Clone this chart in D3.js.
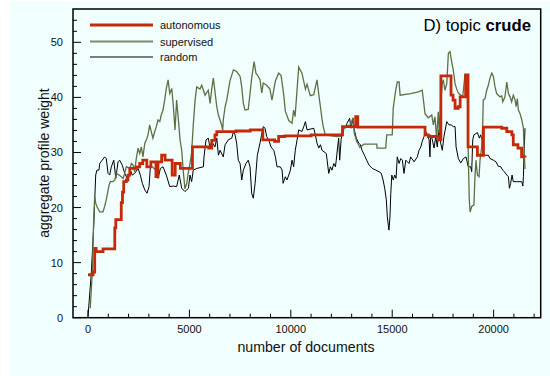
<!DOCTYPE html>
<html>
<head>
<meta charset="utf-8">
<script src="https://cdn.jsdelivr.net/npm/d3@7"></script>
<style>
  html, body { margin: 0; padding: 0; background: #fff; }
  svg { display: block; font-family: "Liberation Sans", Arial, Helvetica, sans-serif; }
</style>
</head>
<body>
<svg id="chart" width="550" height="376"></svg>
<script>
// [documents, aggregate profile weight]
const autonomous = [
  [0, 7.8], [250, 8.3], [330, 12.6], [400, 12.0], [740, 12.5], [1320, 16.3], [1370, 17.8],
  [1640, 20.9], [1700, 22.8], [1760, 24.7], [1890, 25.0], [1970, 25.9], [2060, 27.1],
  [2370, 27.4], [2550, 28.0], [2700, 28.6], [2900, 27.4], [3100, 28.3], [3350, 25.6],
  [3450, 28.3], [3630, 29.5], [3800, 28.6], [4150, 25.9], [4300, 28.0], [4550, 27.1],
  [5150, 31.0], [5950, 30.8], [6100, 32.2], [6260, 33.2], [6350, 33.8], [7300, 33.9],
  [8000, 34.1], [8620, 32.3], [9200, 32.0], [9400, 32.9], [9700, 33.0], [11000, 33.2],
  [12550, 34.7], [13200, 36.5], [13300, 34.6], [16620, 33.2], [16780, 32.9], [17300, 32.3],
  [17400, 43.9], [17900, 40.4], [18000, 39.5], [18100, 38.0], [18250, 38.3], [18350, 40.1],
  [18620, 44.1], [18740, 31.0], [19200, 29.5], [19500, 34.6], [20400, 34.4], [20650, 33.8],
  [20900, 33.2], [20970, 31.4], [21200, 30.8], [21380, 29.2], [21550, 29.1]
];

const supervised = [
  [110, 1.7], [210, 8.1], [280, 17.7], [330, 22.0], [380, 20.8], [440, 20.2], [580, 19.2],
  [740, 19.2], [820, 20.2], [900, 21.4], [1040, 24.1], [1100, 24.7], [1230, 24.7], [1320, 25.0],
  [1400, 26.2], [1530, 25.9], [1640, 25.6], [1730, 25.3], [1810, 26.2], [1890, 27.4],
  [2060, 27.1], [2140, 28.0], [2220, 27.7], [2300, 26.5], [2380, 28.9], [2470, 30.8],
  [2550, 29.8], [2630, 31.0], [2710, 29.2], [2800, 31.7], [2880, 32.3], [2960, 33.2],
  [3040, 35.0], [3120, 33.8], [3200, 32.6], [3290, 33.8], [3370, 34.7], [3450, 35.9],
  [3540, 35.6], [3610, 36.8], [3700, 37.7], [3780, 39.5], [3860, 41.6], [3950, 43.2],
  [4030, 40.7], [4130, 41.6], [4210, 38.3], [4290, 34.1], [4370, 39.5], [4450, 36.2],
  [4540, 32.3], [4620, 30.4], [4700, 26.5], [4780, 23.4], [4870, 24.4], [4930, 26.0],
  [5030, 28.0], [5110, 30.0], [5190, 35.0], [5280, 39.5], [5360, 41.9], [5520, 41.5],
  [5610, 42.2], [5770, 40.4], [5930, 41.3], [6020, 38.9], [6100, 41.5], [6180, 43.5],
  [6350, 38.3], [6430, 36.8], [6510, 35.9], [6590, 35.0], [6640, 34.0], [6670, 35.9],
  [6760, 38.3], [6840, 39.5], [7000, 43.0], [7170, 45.0], [7330, 44.7], [7500, 43.8],
  [7580, 41.9], [7660, 38.9], [7740, 37.7], [7900, 37.8], [7990, 40.7], [8070, 43.5],
  [8190, 46.5], [8280, 44.4], [8400, 43.8], [8480, 43.2], [8570, 40.8], [8640, 42.6],
  [8810, 42.2], [8970, 41.5], [9070, 39.5], [9240, 43.0], [9400, 44.4], [9520, 44.0],
  [9650, 40.5], [9730, 37.5], [9900, 35.8], [10060, 35.3], [10140, 37.7], [10210, 36.5],
  [10390, 45.5], [10550, 44.4], [10720, 41.5], [10800, 42.4], [10960, 40.3], [11130, 40.5],
  [11290, 43.2], [11380, 40.5], [11460, 38.3], [11540, 36.0], [11600, 34.7], [11700, 33.2],
  [12280, 32.9], [12530, 33.0], [12640, 34.6], [12930, 35.0], [13070, 36.3], [13130, 33.5],
  [13250, 32.0], [13330, 31.5], [13410, 30.9], [13600, 31.5], [14240, 31.5], [14250, 30.8],
  [14680, 30.8], [14730, 33.2], [15000, 33.2], [15050, 38.0], [15160, 41.0], [15250, 42.8],
  [15340, 42.8], [15390, 40.4], [15910, 40.7], [16290, 41.0], [16480, 41.3], [16620, 37.0],
  [16780, 36.3], [16950, 36.8], [17030, 35.0], [17110, 36.5], [17190, 32.5], [17270, 37.4],
  [17320, 33.5], [17390, 39.0], [17470, 42.6], [17520, 43.2], [17600, 41.3], [17690, 42.5],
  [17770, 48.0], [17850, 48.3], [17930, 46.5], [18010, 45.0], [18100, 42.5], [18180, 41.5],
  [18260, 40.8], [18340, 40.5], [18480, 40.2], [18590, 44.2], [18670, 42.0], [18710, 40.4],
  [18750, 29.8], [18800, 21.4], [18840, 19.2], [18920, 20.2], [19030, 20.5], [19080, 25.6],
  [19130, 28.6], [19200, 25.9], [19280, 25.6], [19330, 28.6], [19410, 31.0], [19460, 34.7],
  [19490, 39.5], [19580, 39.8], [19660, 41.3], [19740, 42.2], [19820, 43.5], [19910, 44.4],
  [19990, 43.8], [20070, 41.9], [20150, 40.7], [20320, 40.1], [20400, 40.3], [20450, 39.2],
  [20560, 40.1], [20650, 42.8], [20730, 40.7], [20810, 40.1], [20890, 39.2], [20970, 40.4],
  [21060, 39.5], [21110, 38.3], [21170, 39.8], [21220, 37.7], [21300, 37.1], [21390, 35.9],
  [21470, 34.4], [21510, 30.0], [21550, 27.0]
];

const random = [
  [0, 0.2], [160, 8.0], [280, 16.5], [380, 25.9], [440, 26.8], [540, 26.8], [580, 28.0],
  [700, 28.6], [820, 29.2], [900, 28.9], [990, 26.2], [1070, 25.9], [1150, 27.4], [1270, 28.6],
  [1370, 25.3], [1480, 28.3], [1560, 28.6], [1690, 27.7], [1810, 26.2], [1970, 25.0],
  [2090, 26.8], [2180, 25.9], [2300, 26.2], [2470, 27.1], [2580, 25.9], [2680, 24.4],
  [2800, 23.2], [2910, 22.6], [3010, 23.8], [3070, 27.1], [3170, 27.4], [3340, 26.8],
  [3450, 25.3], [3570, 27.1], [3700, 27.4], [3860, 25.9], [4030, 23.8], [4210, 23.9],
  [4370, 23.8], [4500, 25.9], [4620, 23.5], [4780, 22.9], [4950, 23.5], [5030, 25.9],
  [5110, 24.7], [5190, 26.8], [5360, 27.1], [5690, 27.4], [5720, 29.2], [5820, 32.3],
  [5930, 32.6], [6020, 30.8], [6100, 32.0], [6260, 31.0], [6350, 32.6], [6430, 29.5],
  [6510, 30.4], [6670, 29.2], [6760, 31.4], [6920, 32.3], [7090, 32.6], [7170, 33.8],
  [7250, 33.2], [7330, 31.7], [7410, 28.6], [7500, 28.0], [7580, 25.0], [7660, 26.8],
  [7790, 28.0], [7900, 28.6], [7990, 27.4], [8070, 22.6], [8150, 21.7], [8240, 24.4],
  [8350, 29.5], [8480, 31.7], [8640, 34.7], [8730, 34.4], [8810, 32.9], [8940, 32.0],
  [9020, 31.0], [9160, 30.4], [9240, 29.2], [9320, 27.4], [9480, 27.4], [9570, 26.8],
  [9620, 24.4], [9730, 25.6], [9810, 25.0], [9900, 25.9], [9980, 26.8], [10060, 28.6],
  [10140, 27.4], [10220, 30.4], [10310, 32.3], [10390, 34.1], [10550, 33.8], [10640, 34.7],
  [10720, 35.6], [10800, 34.1], [11130, 34.4], [11210, 33.2], [11290, 31.7], [11380, 30.8],
  [11460, 31.4], [11540, 30.4], [11750, 29.8], [11790, 28.6], [11870, 26.2], [11950, 27.4],
  [12030, 26.8], [12120, 28.0], [12200, 27.4], [12240, 28.6], [12310, 31.0], [12360, 32.6],
  [12410, 28.6], [12480, 32.3], [12570, 34.7], [12690, 34.4], [12770, 35.3], [12900, 36.2],
  [12970, 34.4], [13070, 36.2], [13130, 34.1], [13230, 32.6], [13350, 31.7], [13430, 31.4],
  [13510, 30.4], [13630, 29.5], [13740, 28.6], [13860, 27.7], [14020, 27.1], [14190, 26.8],
  [14350, 26.5], [14460, 26.2], [14550, 25.0], [14630, 23.5], [14710, 21.4], [14760, 18.3],
  [14840, 15.9], [14890, 18.3], [14930, 22.6], [14980, 25.9], [15050, 25.0], [15120, 25.9],
  [15190, 25.3], [15250, 29.2], [15340, 28.0], [15420, 28.9], [15500, 28.6], [15580, 26.2],
  [15670, 28.6], [15750, 28.3], [15830, 28.0], [15910, 29.2], [16080, 28.3], [16240, 29.2],
  [16320, 30.4], [16410, 31.0], [16480, 32.0], [16570, 32.9], [16650, 33.8], [16730, 33.2],
  [16820, 32.3], [16860, 29.2], [16900, 33.2], [16980, 32.3], [17060, 30.8], [17150, 32.9],
  [17220, 31.0], [17310, 34.1], [17390, 31.7], [17470, 30.4], [17550, 32.9], [17690, 35.6],
  [17800, 35.0], [17910, 35.0], [18010, 34.7], [18100, 34.7], [18150, 31.0], [18260, 28.9],
  [18380, 28.1], [18510, 28.9], [18640, 29.2], [18750, 27.4], [18870, 27.4], [18920, 26.5],
  [18970, 32.3], [19030, 33.2], [19200, 33.6], [19300, 32.6], [19360, 33.2], [19430, 32.3],
  [19490, 29.8], [19580, 29.5], [19740, 29.5], [19820, 28.9], [19990, 28.6], [20120, 28.3],
  [20230, 27.5], [20350, 27.4], [20450, 26.8], [20530, 26.5], [20650, 25.9], [20730, 25.6],
  [20780, 23.5], [20840, 24.4], [20910, 25.9], [20970, 24.7], [21140, 24.7], [21390, 24.7],
  [21440, 23.9], [21470, 25.6], [21500, 29.8], [21550, 34.4]
];

const seriesNames = ['autonomous', 'supervised', 'random'];
const seriesColors = ['#c42a0a', '#5f6f45', '#000000'];
const xMajorTicks = [0, 5000, 10000, 15000, 20000];
const yMajorTicks = [0, 10, 20, 30, 40, 50];

const svg = d3.select('#chart');
const W = 550, H = 376;
const plot = { left: 73, top: 9, right: 540.7, bottom: 317.7 };

svg.append('rect').attr('x', 10).attr('y', 2).attr('width', W - 10).attr('height', H - 2)
  .attr('fill', '#f0fefe');

const x = d3.scaleLinear().domain([-740, 22322]).range([plot.left, plot.right]);
const y = d3.scaleLinear().domain([0, 56.05]).range([plot.bottom, plot.top]);

const g = svg.append('g');

// ticks, inside the frame, left and bottom only
const xMinor = d3.range(1000, 23000, 1000).filter(d => x(d) < plot.right && d % 5000 !== 0);
const yMinor = d3.range(2, 56, 2).filter(d => d % 10 !== 0);

g.selectAll('.xt').data(xMajorTicks.concat(xMinor)).enter().append('line')
  .attr('x1', d => x(d)).attr('x2', d => x(d))
  .attr('y1', plot.bottom).attr('y2', d => plot.bottom - (d % 5000 === 0 ? 8 : 4))
  .attr('stroke', '#000').attr('stroke-width', 1);

g.selectAll('.yt').data(yMajorTicks.concat(yMinor)).enter().append('line')
  .attr('y1', d => y(d)).attr('y2', d => y(d))
  .attr('x1', plot.left).attr('x2', d => plot.left + (d % 10 === 0 ? 8 : 4))
  .attr('stroke', '#000').attr('stroke-width', 1);

g.selectAll('.xl').data(xMajorTicks).enter().append('text')
  .attr('x', d => x(d)).attr('y', 333).attr('text-anchor', 'middle')
  .attr('font-size', 11).attr('fill', '#111').text(d => d);

g.selectAll('.yl').data(yMajorTicks).enter().append('text')
  .attr('x', 63).attr('y', d => y(d) + 4).attr('text-anchor', 'end')
  .attr('font-size', 11).attr('fill', '#111').text(d => d);

// series
svg.append('clipPath').attr('id', 'clip').append('rect')
  .attr('x', plot.left).attr('y', plot.top)
  .attr('width', plot.right - plot.left).attr('height', plot.bottom - plot.top);

const lineLin = d3.line().x(d => x(d[0])).y(d => y(d[1]));
const lineStep = d3.line().x(d => x(d[0])).y(d => y(d[1])).curve(d3.curveStepAfter);

const lines = svg.append('g').attr('clip-path', 'url(#clip)');
lines.append('path').datum(random).attr('d', lineLin)
  .attr('fill', 'none').attr('stroke', seriesColors[2]).attr('stroke-width', 1);
lines.append('path').datum(supervised).attr('d', lineLin)
  .attr('fill', 'none').attr('stroke', seriesColors[1]).attr('stroke-width', 1.3);
lines.append('path').datum(autonomous).attr('d', lineStep)
  .attr('fill', 'none').attr('stroke', seriesColors[0]).attr('stroke-width', 2.8)
  .attr('stroke-linejoin', 'miter');

// frame
svg.append('rect').attr('x', plot.left).attr('y', plot.top)
  .attr('width', plot.right - plot.left).attr('height', plot.bottom - plot.top)
  .attr('fill', 'none').attr('stroke', '#000').attr('stroke-width', 1.5);

// legend
const legend = svg.append('g');
const legendY = [25, 41.5, 57];
const legendW = [3, 2, 1.2];
seriesNames.forEach((name, i) => {
  legend.append('line').attr('x1', 90).attr('x2', 153)
    .attr('y1', legendY[i]).attr('y2', legendY[i])
    .attr('stroke', i === 1 ? '#7f8a68' : seriesColors[i]).attr('stroke-width', legendW[i]);
  legend.append('text').attr('x', 160).attr('y', legendY[i] + 4)
    .attr('font-size', 11).attr('fill', '#111').text(name);
});

// title
const title = svg.append('text').attr('x', 531).attr('y', 31)
  .attr('text-anchor', 'end').attr('font-size', 16.7).attr('fill', '#000');
title.append('tspan').text('D) topic ');
title.append('tspan').attr('font-weight', 'bold').text('crude');

// axis labels
svg.append('text').attr('x', 306).attr('y', 352).attr('text-anchor', 'middle')
  .attr('font-size', 14.2).attr('fill', '#111').text('number of documents');
svg.append('text').attr('transform', 'translate(49,163) rotate(-90)')
  .attr('text-anchor', 'middle').attr('font-size', 14).attr('fill', '#111')
  .text('aggregate profile weight');
</script>
</body>
</html>
